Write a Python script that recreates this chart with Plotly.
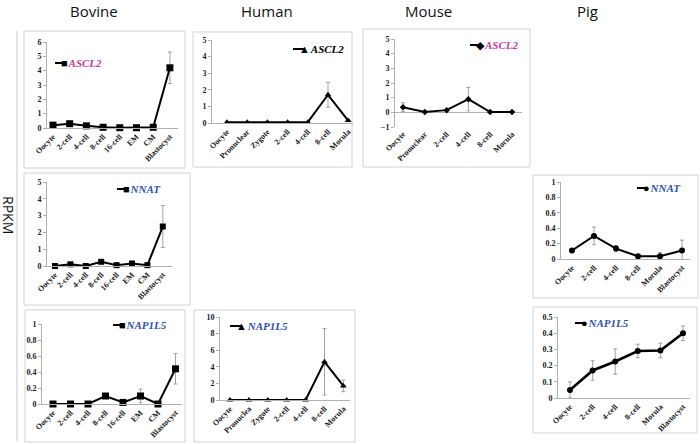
import plotly.graph_objects as go

# ---------------- data ----------------
bovine_stages = ["Oocyte", "2-cell", "4-cell", "8-cell", "16-cell", "EM", "CM", "Blastocyst"]
human_stages_a = ["Oocyte", "Pronuclear", "Zygote", "2-cell", "4-cell", "8-cell", "Morula"]
human_stages_b = ["Oocyte", "Pronuclea", "Zygote", "2-cell", "4-cell", "8-cell", "Morula"]
mouse_stages = ["Oocyte", "Pronuclear", "2-cell", "4-cell", "8-cell", "Morula"]
pig_stages = ["Oocyte", "2-cell", "4-cell", "8-cell", "Morula", "Blastocyst"]

bovine_ascl2 = [0.2, 0.3, 0.15, 0.05, 0.02, 0.02, 0.05, 4.2]
bovine_ascl2_err = [0, 0, 0, 0, 0, 0, 0, 1.1]
human_ascl2 = [0.05, 0.05, 0.05, 0.05, 0.05, 1.7, 0.15]
human_ascl2_err = [0, 0, 0, 0, 0, 0.75, 0.05]
mouse_ascl2 = [0.35, 0.03, 0.15, 0.9, 0.02, 0.02]
mouse_ascl2_err = [0.3, 0, 0, 0.8, 0, 0]
bovine_nnat = [0.0, 0.1, 0.0, 0.25, 0.05, 0.15, 0.05, 2.35]
bovine_nnat_err = [0, 0, 0, 0, 0, 0, 0, 1.25]
pig_nnat = [0.11, 0.30, 0.135, 0.035, 0.035, 0.11]
pig_nnat_err = [0, 0.115, 0.04, 0, 0.05, 0.135]
bovine_nap1l5 = [0.0, 0.0, 0.0, 0.1, 0.02, 0.1, 0.0, 0.44]
bovine_nap1l5_err = [0, 0, 0, 0, 0, 0.085, 0, 0.19]
human_nap1l5 = [0.0, 0.0, 0.0, 0.0, 0.0, 4.6, 1.7]
human_nap1l5_err = [0, 0, 0, 0, 0, 4.0, 0.7]
pig_nap1l5 = [0.05, 0.17, 0.225, 0.29, 0.293, 0.40]
pig_nap1l5_err = [0.05, 0.06, 0.078, 0.042, 0.045, 0.045]

species = ["Bovine", "Human", "Mouse", "Pig"]

W, H = 700, 444
MAG = "#C8389A"
BLUE = "#2E4FB5"

panels = [
    dict(st=bovine_stages, v=bovine_ascl2, e=bovine_ascl2_err, m="square", ms=7, gene="ASCL2", gc=MAG,
         yr=[0, 6], dt=1, x0=47, x1=178, fx=53, sp=16.7, yt=42, yb=128, box=(24, 31, 185, 168), lg=(55, 63), sym="■", lw=2),
    dict(st=human_stages_a, v=human_ascl2, e=human_ascl2_err, m="triangle-up", ms=6, gene="ASCL2", gc="black",
         yr=[0, 5], dt=1, x0=212, x1=353, fx=227, sp=20.2, yt=40, yb=123, box=(193, 32, 352, 167), lg=(293, 49), sym="▲", lw=2),
    dict(st=mouse_stages, v=mouse_ascl2, e=mouse_ascl2_err, m="diamond", ms=5, gene="ASCL2", gc=MAG,
         yr=[-1, 5], dt=1, x0=395, x1=522, fx=403, sp=21.8, yt=39, yb=127, box=(363, 29, 530, 167), lg=(470, 45), sym="◆", lw=2),
    dict(st=bovine_stages, v=bovine_nnat, e=bovine_nnat_err, m="square", ms=6, gene="NNAT", gc=BLUE,
         yr=[0, 5], dt=1, x0=47, x1=172, fx=55, sp=15.4, yt=182, yb=266, box=(24, 173, 190, 305), lg=(117, 189), sym="■", lw=2),
    dict(st=pig_stages, v=pig_nnat, e=pig_nnat_err, m="circle", ms=6, gene="NNAT", gc=BLUE,
         yr=[0, 1], dt=0.2, x0=561, x1=690, fx=572, sp=22, yt=182, yb=259, box=(533, 175, 698, 298), lg=(637, 188), sym="●", lw=2),
    dict(st=bovine_stages, v=bovine_nap1l5, e=bovine_nap1l5_err, m="square", ms=7, gene="NAP1L5", gc=BLUE,
         yr=[0, 1], dt=0.2, x0=42, x1=182, fx=53, sp=17.5, yt=324, yb=404, box=(25, 310, 185, 442), lg=(113, 325), sym="■", lw=2),
    dict(st=human_stages_b, v=human_nap1l5, e=human_nap1l5_err, m="triangle-up", ms=6, gene="NAP1L5", gc=BLUE,
         yr=[0, 10], dt=2, x0=220, x1=350, fx=230, sp=18.9, yt=317, yb=400, box=(194, 310, 355, 442), lg=(230, 326), sym="▲", lw=2),
    dict(st=pig_stages, v=pig_nap1l5, e=pig_nap1l5_err, m="circle", ms=6, gene="NAP1L5", gc=BLUE,
         yr=[0, 0.5], dt=0.1, x0=558, x1=690, fx=570, sp=22.6, yt=317, yb=398, box=(533, 307, 697, 433), lg=(575, 323), sym="●", lw=2.6),
]

fig = go.Figure()
layout = dict(width=W, height=H, margin=dict(l=0, r=0, t=0, b=0, pad=0, autoexpand=False), showlegend=False,
              paper_bgcolor="white", plot_bgcolor="white")
shapes = []
annotations = []

tickfont = dict(family="Liberation Serif", size=8, color="#1a1a1a")

for i, p in enumerate(panels, start=1):
    xa = "x" if i == 1 else f"x{i}"
    ya = "y" if i == 1 else f"y{i}"
    n = len(p["st"])
    idx = list(range(n))
    fig.add_trace(go.Scatter(
        x=idx, y=p["v"], xaxis=xa, yaxis=ya, mode="lines+markers",
        line=dict(color="black", width=p["lw"]),
        marker=dict(symbol=p["m"], size=p["ms"], color="black"),
        error_y=dict(type="data", array=p["e"], visible=True, color="#8a8a8a", thickness=0.8, width=2),
        cliponaxis=False, hoverinfo="skip",
    ))
    r0 = -(p["fx"] - p["x0"]) / p["sp"]
    r1 = (p["x1"] - p["fx"]) / p["sp"]
    mouse = p["yr"][0] < 0
    layout["xaxis" if i == 1 else f"xaxis{i}"] = dict(
        domain=[p["x0"] / W, p["x1"] / W], anchor=ya, range=[r0, r1],
        tickmode="array", tickvals=idx, ticktext=[f"<b>{s}</b>" for s in p["st"]],
        tickangle=-45, tickfont=tickfont, showgrid=False, zeroline=False, automargin=False,
        showline=not mouse, linecolor="#b0b0b0", linewidth=1, ticks="", fixedrange=True,
    )
    layout["yaxis" if i == 1 else f"yaxis{i}"] = dict(
        domain=[1 - p["yb"] / H, 1 - p["yt"] / H], anchor=xa, range=p["yr"],
        dtick=p["dt"], tick0=0, tickfont=tickfont, showgrid=False, automargin=False,
        zeroline=mouse, zerolinecolor="#b0b0b0", zerolinewidth=1,
        showline=True, linecolor="#b0b0b0", linewidth=1, ticks="outside", ticklen=3,
        tickcolor="#b0b0b0", tickprefix="<b>", ticksuffix="</b>", fixedrange=True,
    )
    bx0, by0, bx1, by1 = p["box"]
    shapes.append(dict(type="rect", xref="paper", yref="paper",
                       x0=bx0 / W, x1=bx1 / W, y0=1 - by1 / H, y1=1 - by0 / H,
                       line=dict(color="#d2d2d2", width=1), layer="below"))
    lx, ly = p["lg"]
    shapes.append(dict(type="line", xref="paper", yref="paper",
                       x0=lx / W, x1=(lx + 11) / W, y0=1 - ly / H, y1=1 - ly / H,
                       line=dict(color="black", width=2)))
    annotations.append(dict(
        xref="paper", yref="paper", x=(lx + 4) / W, y=1 - ly / H, xanchor="left", yanchor="middle",
        showarrow=False,
        text=f"<span style='color:black'>{p['sym']}</span>&#8202;<span style='color:{p['gc']}'><b><i>{p['gene']}</i></b></span>",
        font=dict(family="Liberation Serif", size=11),
    ))

shapes.append(dict(type="line", xref="paper", yref="paper", x0=17 / W, x1=17 / W,
                   y0=1 - 441 / H, y1=1 - 31 / H, line=dict(color="#c8c8c8", width=1)))

for name, cx in zip(species, [94, 267, 428, 587]):
    annotations.append(dict(xref="paper", yref="paper", x=cx / W, y=1 - 11 / H, showarrow=False,
                            xanchor="center", yanchor="middle", text=name,
                            font=dict(family="Open Sans", size=15, color="#111111")))
annotations.append(dict(xref="paper", yref="paper", x=9 / W, y=1 - 215 / H, showarrow=False,
                        xanchor="center", yanchor="middle", text="RPKM", textangle=90,
                        font=dict(family="Open Sans", size=14, color="#111111")))

layout["shapes"] = shapes
layout["annotations"] = annotations
fig.update_layout(**layout)
fig.write_html("out.html", config={"responsive": False, "displayModeBar": False},
               post_script="document.body.style.margin='0';document.body.style.padding='0';")
